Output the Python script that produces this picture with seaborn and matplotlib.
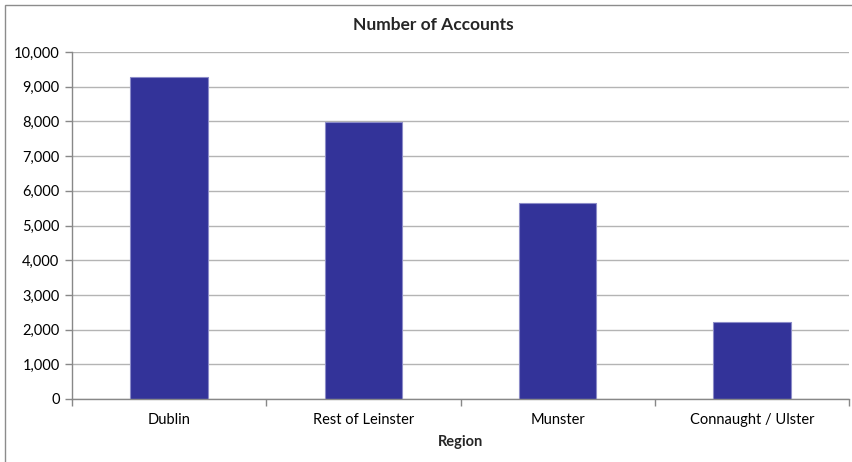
import matplotlib
matplotlib.use("Agg")
import matplotlib.pyplot as plt
import matplotlib.ticker as mticker
from matplotlib.patches import Rectangle
import pandas as pd
import seaborn as sns

regions = ["Dublin", "Rest of Leinster", "Munster", "Connaught / Ulster"]
accounts = [9275, 7970, 5660, 2220]
y_ticks = [0, 1000, 2000, 3000, 4000, 5000, 6000, 7000, 8000, 9000, 10000]

title_text = "Number of Accounts"
x_title = "Region"

sns.set_theme(style="white")
plt.rcParams["font.family"] = ["Lato", "DejaVu Sans"]

W, H = 852, 462
fig = plt.figure(figsize=(W / 100, H / 100), dpi=100)
ax = fig.add_axes([72 / W, 1 - 399 / H, (849 - 72) / W, (399 - 52) / H])

df = pd.DataFrame({"Region": regions, "Accounts": accounts})
sns.barplot(data=df, x="Region", y="Accounts", color="#333399", width=0.4,
            edgecolor="#8c8cc8", linewidth=0.8, saturation=1, ax=ax, zorder=3)

ax.set_xlim(-0.5, len(regions) - 0.5)
ax.set_ylim(0, 10000)
ax.set_yticks(y_ticks)
ax.yaxis.set_major_formatter(mticker.FuncFormatter(lambda v, p: f"{int(v):,}"))
ax.yaxis.grid(True, color="#b4b4b4", linewidth=1.0, zorder=0)
ax.set_axisbelow(True)

# category boundary ticks on x axis
ax.set_xticks([i - 0.5 for i in range(len(regions) + 1)], minor=True)
ax.tick_params(axis="x", which="major", length=0, pad=10, labelsize=10.5, colors="#000000")
ax.tick_params(axis="x", which="minor", length=5, width=1, color="#888888", direction="out")
ax.tick_params(axis="y", which="major", length=5, width=1, color="#888888", direction="out",
               labelsize=10.5, pad=4, colors="#000000")
ax.tick_params(axis="y", left=True)
ax.tick_params(axis="x", which="minor", bottom=True)

for side in ["top", "right"]:
    ax.spines[side].set_visible(False)
for side in ["left", "bottom"]:
    ax.spines[side].set_color("#888888")
    ax.spines[side].set_linewidth(1.0)
    ax.spines[side].set_zorder(4)

ax.set_ylabel("")
ax.set_xlabel(x_title, fontsize=10.5, fontweight="bold", labelpad=6)

fig.text(433 / W, 1 - 25 / H, title_text, ha="center", va="center",
         fontsize=12.5, fontweight="bold")

# chart frame
fig.patches.append(Rectangle((5 / W, -0.2), 1.2, 1.2 - 5 / H,
                             transform=fig.transFigure, fill=False,
                             edgecolor="#8c8c8c", linewidth=1.0))

fig.savefig("out.png", dpi=100, facecolor="white")
